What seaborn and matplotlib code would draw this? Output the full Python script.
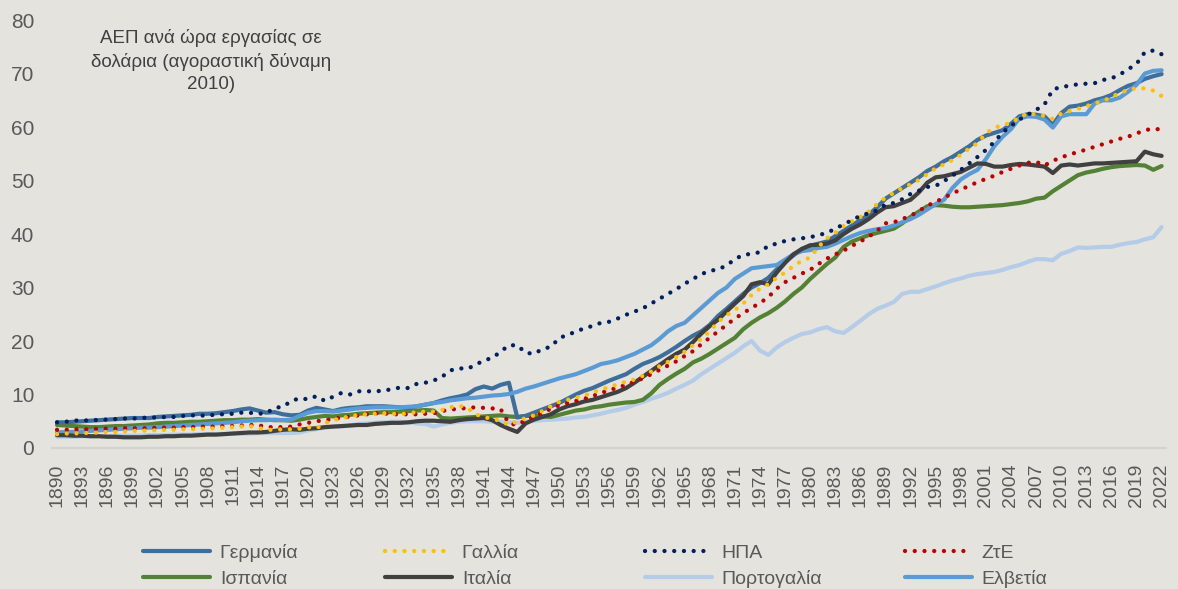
import matplotlib
matplotlib.use("Agg")
import matplotlib.pyplot as plt
import seaborn as sns
from matplotlib.lines import Line2D
from matplotlib.ticker import FixedLocator

# ---------------- data ----------------
years = list(range(1890, 2023))
tick_years = list(range(1890, 2023, 3))

labels = ["Γερμανία", "Γαλλία", "ΗΠΑ", "ΖτΕ", "Ισπανία", "Ιταλία", "Πορτογαλία", "Ελβετία"]

germany = [
    4.8, 4.8, 4.9, 5.0, 5.1, 5.2, 5.3, 5.4, 5.5, 5.6,
    5.6, 5.6, 5.8, 5.9, 6.0, 6.1, 6.2, 6.4, 6.4, 6.5,
    6.7, 6.9, 7.2, 7.4, 7.0, 6.6, 6.7, 6.3, 6.1, 6.2,
    7.0, 7.5, 7.2, 6.9, 7.3, 7.5, 7.6, 7.8, 7.8, 7.8,
    7.7, 7.6, 7.5, 7.8, 8.1, 8.4, 8.9, 9.3, 9.6, 10.0,
    11.0, 11.5, 11.1, 11.8, 12.2, 5.7, 6.0, 6.6, 7.2, 7.8,
    8.4, 9.2, 10.0, 10.7, 11.2, 11.9, 12.6, 13.2, 13.8, 14.8,
    15.7, 16.3, 17.0, 17.9, 18.9, 20.0, 21.0, 21.8, 23.0, 24.7,
    26.0, 27.4, 28.8, 30.0, 30.8, 31.8, 33.4, 34.8, 36.0, 37.2,
    37.8, 38.2, 38.6, 39.6, 40.6, 41.6, 42.6, 43.6, 45.0, 46.6,
    47.6, 48.6, 49.6, 50.6, 51.8, 52.6, 53.6, 54.4, 55.4, 56.4,
    57.6, 58.4, 58.9, 59.4, 60.6, 62.0, 62.4, 62.3, 62.0, 60.4,
    62.6, 63.8, 64.0, 64.4, 65.0, 65.4, 66.0, 66.9, 67.7, 68.2,
    69.0, 69.5, 69.9]

france = [
    2.6, 2.7, 2.7, 2.8, 2.8, 2.9, 3.0, 3.0, 3.1, 3.2,
    3.2, 3.3, 3.3, 3.4, 3.4, 3.5, 3.5, 3.6, 3.6, 3.7,
    3.8, 3.9, 4.0, 4.1, 3.8, 3.4, 3.4, 3.5, 3.5, 3.6,
    3.9, 3.7, 4.6, 5.2, 5.6, 5.9, 6.2, 6.3, 6.4, 6.5,
    6.4, 6.3, 6.5, 6.7, 6.8, 6.8, 7.1, 7.6, 7.9, 7.6,
    6.3, 5.8, 5.4, 5.1, 4.3, 5.0, 5.6, 6.1, 6.9, 7.8,
    8.6, 9.0, 9.4, 9.8, 10.4, 10.9, 11.4, 11.9, 12.4, 12.8,
    13.5, 14.3, 15.3, 16.1, 17.0, 18.0, 19.2, 20.4, 21.8, 23.6,
    24.8, 25.8, 27.0, 28.6, 29.8, 30.6, 31.8, 32.8, 34.0, 35.0,
    35.6, 37.6, 39.2, 40.2, 41.5, 42.4, 43.2, 44.2, 45.6, 46.8,
    47.7, 48.6, 49.3, 50.1, 51.2, 52.3, 53.0, 53.8, 54.8, 56.0,
    57.0, 58.8, 59.9, 60.3, 60.8, 61.8, 62.6, 62.3, 62.1, 61.5,
    62.5, 63.0, 63.4, 63.9, 64.4, 64.9, 65.6, 66.4, 66.9, 67.3,
    67.2, 66.8, 65.8]

usa = [
    4.8, 4.9, 5.1, 5.2, 5.1, 5.3, 5.3, 5.4, 5.5, 5.5,
    5.6, 5.7, 5.7, 5.8, 5.8, 6.0, 6.1, 6.1, 6.0, 6.3,
    6.3, 6.4, 6.6, 6.6, 6.4, 6.5, 7.5, 7.7, 8.8, 9.3,
    9.1, 9.7, 8.8, 9.6, 10.3, 10.0, 10.6, 10.6, 10.6, 10.7,
    11.0, 11.3, 11.2, 12.0, 12.2, 12.6, 13.3, 14.5, 14.9, 14.8,
    15.5, 16.4, 16.8, 18.0, 19.2, 19.2, 17.8, 17.6, 18.5, 18.9,
    20.5, 21.2, 21.7, 22.4, 22.8, 23.4, 23.6, 24.2, 24.9, 25.5,
    26.1, 27.0, 27.9, 28.8, 29.7, 30.7, 31.6, 32.5, 33.1, 33.4,
    34.1, 35.3, 36.1, 36.3, 36.6, 37.8, 38.2, 38.7, 39.0, 39.2,
    39.4, 39.8, 40.2, 41.0, 41.8, 42.6, 43.4, 43.9, 44.4, 45.5,
    45.8, 46.5, 47.5, 48.1, 48.8, 49.0, 49.9, 50.9, 52.0, 53.2,
    54.4, 55.7, 57.2, 59.0, 60.2, 61.4, 62.3, 63.2, 64.2, 67.0,
    67.5, 67.7, 68.0, 68.1, 68.2, 68.8, 69.1, 69.8, 70.8, 71.8,
    74.0, 74.3, 73.6]

zte = [
    3.4, 3.4, 3.5, 3.5, 3.5, 3.6, 3.6, 3.6, 3.7, 3.7,
    3.7, 3.7, 3.8, 3.8, 3.8, 3.9, 3.9, 4.0, 4.0, 4.0,
    4.1, 4.1, 4.2, 4.3, 4.3, 3.9, 3.9, 3.9, 4.0, 4.4,
    4.7, 5.0, 5.2, 5.4, 5.7, 5.9, 6.1, 6.3, 6.5, 6.5,
    6.3, 6.3, 6.3, 6.3, 6.4, 6.5, 6.9, 7.2, 7.3, 7.5,
    7.6, 7.5, 7.4, 7.3, 4.6, 4.3, 5.2, 5.8, 6.6, 7.3,
    8.0, 8.4, 8.8, 9.2, 9.7, 10.3, 10.8, 11.3, 11.8, 12.4,
    13.0, 13.8, 14.6, 15.4, 16.2, 17.2, 18.1, 19.4, 20.6, 21.8,
    23.0, 24.2, 25.2, 26.2, 27.1, 28.2, 29.8, 31.0, 31.8, 32.6,
    33.3, 34.4, 35.4, 36.2, 36.9, 37.8, 38.6, 39.5, 40.6, 42.0,
    42.2, 42.8, 43.4, 44.3, 45.3, 46.0, 46.8, 47.6, 48.3, 49.0,
    49.7, 50.3, 50.9, 51.6, 52.2, 52.8, 53.3, 53.5, 52.8, 53.7,
    54.3, 54.9, 55.3, 55.8, 56.3, 56.8, 57.3, 57.8, 58.2, 58.8,
    59.4, 59.7, 59.5]

spain = [
    4.3, 4.2, 4.1, 4.0, 3.9, 3.9, 4.0, 4.1, 4.1, 4.2,
    4.3, 4.4, 4.6, 4.7, 4.7, 4.8, 4.9, 4.9, 5.0, 5.1,
    5.2, 5.2, 5.3, 5.3, 5.4, 5.3, 5.2, 5.2, 5.1, 5.3,
    5.6, 5.8, 6.0, 5.9, 6.1, 6.2, 6.4, 6.5, 6.6, 6.7,
    6.7, 6.8, 6.9, 7.0, 7.1, 7.0, 5.6, 5.5, 5.6, 5.7,
    5.8, 5.9, 6.0, 6.1, 5.9, 5.8, 6.0, 6.0, 5.9, 5.8,
    6.2, 6.6, 7.0, 7.2, 7.6, 7.8, 8.1, 8.3, 8.5, 8.6,
    9.0, 10.2, 11.8, 12.9, 13.9, 14.8, 16.0, 16.7, 17.6, 18.6,
    19.6, 20.6, 22.2, 23.4, 24.4, 25.2, 26.2, 27.4, 28.8, 30.0,
    31.6, 33.0, 34.4, 35.6, 37.6, 38.6, 39.2, 39.8, 40.2, 40.6,
    41.0, 42.0, 43.2, 44.2, 45.2, 45.4, 45.3, 45.1, 45.0, 45.0,
    45.1, 45.2, 45.3, 45.4, 45.6, 45.8, 46.1, 46.6, 46.8, 48.0,
    49.0, 50.0, 51.0, 51.5, 51.8, 52.2, 52.5, 52.7, 52.8, 52.9,
    52.8, 52.0, 52.7]

italy = [
    2.4, 2.4, 2.3, 2.3, 2.2, 2.2, 2.1, 2.1, 2.0, 2.0,
    2.0, 2.1, 2.1, 2.2, 2.2, 2.3, 2.3, 2.4, 2.5, 2.5,
    2.6, 2.7, 2.8, 2.9, 2.9, 3.0, 3.2, 3.4, 3.5, 3.4,
    3.6, 3.7, 3.9, 4.0, 4.1, 4.2, 4.3, 4.3, 4.5, 4.6,
    4.7, 4.7, 4.8, 5.0, 5.1, 5.1, 5.0, 4.9, 5.2, 5.4,
    5.5, 5.6, 5.2, 4.3, 3.6, 3.0, 4.6, 5.3, 5.8, 6.3,
    7.2, 7.8, 8.2, 8.7, 9.0, 9.5, 10.0, 10.5, 11.2, 12.2,
    13.3, 14.4, 15.5, 16.6, 17.6, 18.4, 19.8, 21.4, 22.8, 24.0,
    25.5, 27.0, 28.4, 30.6, 31.0, 30.6, 32.8, 34.6, 36.2, 37.2,
    37.9, 38.0, 38.2, 38.8, 40.0, 41.0, 41.8, 42.8, 44.0, 45.0,
    45.2, 45.8, 46.4, 47.8, 49.6, 50.6, 50.8, 51.2, 51.6, 52.4,
    53.2, 53.1, 52.6, 52.6, 52.9, 53.1, 53.0, 52.8, 52.6, 51.4,
    52.8, 53.0, 52.8, 53.0, 53.2, 53.2, 53.3, 53.4, 53.5, 53.6,
    55.4, 54.9, 54.6]

portugal = [
    2.1, 2.1, 2.1, 2.2, 2.2, 2.2, 2.2, 2.3, 2.3, 2.3,
    2.3, 2.4, 2.4, 2.4, 2.5, 2.5, 2.5, 2.6, 2.6, 2.6,
    2.6, 2.7, 2.7, 2.7, 2.8, 2.8, 2.8, 2.8, 2.8, 2.9,
    3.3, 3.5, 3.8, 4.0, 4.0, 4.2, 4.5, 4.6, 4.7, 4.8,
    4.9, 4.9, 4.8, 4.6, 4.5, 4.0, 4.4, 4.7, 4.9, 5.0,
    5.0, 5.0, 4.9, 4.9, 4.8, 4.7, 4.9, 5.1, 5.2, 5.3,
    5.4, 5.5, 5.7, 5.8, 6.1, 6.4, 6.8, 7.1, 7.5, 8.1,
    8.6, 9.2, 9.7, 10.3, 11.1, 11.8, 12.6, 13.8, 14.8, 15.8,
    16.8, 17.8, 19.0, 20.0, 18.2, 17.4, 18.8, 19.8, 20.6, 21.3,
    21.6, 22.2, 22.6, 21.8, 21.5, 22.6, 23.8, 25.0, 26.0, 26.6,
    27.3, 28.8, 29.2, 29.2, 29.7, 30.2, 30.8, 31.3, 31.7, 32.2,
    32.5, 32.7, 32.9, 33.3, 33.8, 34.2, 34.8, 35.3, 35.3, 35.1,
    36.3, 36.8, 37.5, 37.4, 37.5, 37.6, 37.6, 38.0, 38.3, 38.5,
    39.0, 39.4, 41.3]

swiss = [
    2.9, 3.0, 3.0, 3.1, 3.2, 3.3, 3.4, 3.5, 3.6, 3.7,
    3.8, 3.8, 3.9, 4.0, 4.1, 4.2, 4.3, 4.4, 4.5, 4.6,
    4.7, 4.8, 5.0, 5.1, 5.2, 5.2, 5.3, 5.2, 5.3, 6.0,
    6.6, 6.9, 6.9, 6.8, 7.0, 7.2, 7.4, 7.5, 7.6, 7.6,
    7.6, 7.6, 7.7, 7.8, 8.1, 8.4, 8.6, 8.9, 9.1, 9.3,
    9.4, 9.6, 9.8, 9.9, 10.1, 10.5, 11.1, 11.5, 12.0, 12.5,
    13.0, 13.4, 13.8, 14.4, 15.0, 15.7, 16.0, 16.4, 17.0, 17.6,
    18.4, 19.2, 20.4, 21.8, 22.8, 23.4, 24.8, 26.2, 27.6, 29.0,
    30.0, 31.6, 32.6, 33.6, 33.8, 34.0, 34.2, 35.2, 36.2, 36.8,
    37.0, 37.4, 37.6, 38.2, 38.9, 39.6, 40.2, 40.6, 40.9, 41.1,
    41.6, 42.2, 42.8, 43.6, 44.6, 45.6, 46.4, 48.6, 50.2, 51.2,
    52.0, 54.0, 56.4, 58.2, 59.6, 61.6, 62.0, 61.9, 61.4, 59.9,
    62.0, 62.4, 62.4, 62.4, 64.4, 65.0, 65.0, 65.5, 66.6, 67.9,
    70.0, 70.5, 70.6]

title_text = "ΑΕΠ ανά ώρα εργασίας σε\nδολάρια (αγοραστική δύναμη\n2010)"

# ---------------- style ----------------
sns.set_style("white")
plt.rcParams["font.family"] = ["Liberation Sans", "DejaVu Sans"]

BG = "#E4E3DE"
TXT = "#595959"
DOT = (0, (0.01, 2.25))

colors = {
    "Γερμανία": "#3E6E9C",
    "Γαλλία": "#FFC000",
    "ΗΠΑ": "#002060",
    "ΖτΕ": "#C00000",
    "Ισπανία": "#548235",
    "Ιταλία": "#404040",
    "Πορτογαλία": "#B4CCE8",
    "Ελβετία": "#5B9BD5",
}
dotted = {"Γαλλία", "ΗΠΑ", "ΖτΕ"}
values = {
    "Γερμανία": germany, "Γαλλία": france, "ΗΠΑ": usa, "ΖτΕ": zte,
    "Ισπανία": spain, "Ιταλία": italy, "Πορτογαλία": portugal, "Ελβετία": swiss,
}
draw_order = ["Πορτογαλία", "Ισπανία", "Γερμανία", "Ελβετία", "Ιταλία", "ΖτΕ", "Γαλλία", "ΗΠΑ"]

fig = plt.figure(figsize=(11.78, 5.89), dpi=100, facecolor=BG)
ax = fig.add_axes([0.0445, 0.2394, 0.9455, 0.7266], facecolor=BG)

for z, name in enumerate(draw_order):
    if name in dotted:
        sns.lineplot(x=years, y=values[name], ax=ax, color=colors[name], linewidth=3.1,
                     linestyle=DOT, dash_capstyle="round", errorbar=None, legend=False,
                     zorder=3 + z)
    else:
        sns.lineplot(x=years, y=values[name], ax=ax, color=colors[name], linewidth=3.0,
                     solid_capstyle="round", solid_joinstyle="round", errorbar=None,
                     legend=False, zorder=3 + z)

ax.set_xlim(1889.45, 2022.55)
ax.set_ylim(0, 80)
ax.set_yticks(range(0, 81, 10))
ax.xaxis.set_major_locator(FixedLocator(tick_years))
ax.xaxis.set_minor_locator(FixedLocator(years))
ax.set_xticklabels([str(y) for y in tick_years], rotation=90)
ax.tick_params(axis="y", length=0, pad=13, labelsize=15, labelcolor=TXT)
ax.tick_params(axis="x", which="both", length=5, width=1.2, color="#D2D2D2",
               direction="out", pad=6, labelsize=14, labelcolor=TXT)
ax.set_xlabel("")
ax.set_ylabel("")
for s in ["top", "right", "left"]:
    ax.spines[s].set_visible(False)
ax.spines["bottom"].set_color("#D2D2D2")
ax.spines["bottom"].set_linewidth(1.5)
ax.grid(False)

fig.text(0.179, 0.896, title_text, ha="center", va="center", fontsize=13.5,
         color="#404040", linespacing=1.4)

# ---------------- legend (4 columns x 2 rows) ----------------
def handle(name):
    if name in dotted:
        return Line2D([], [], color=colors[name], linewidth=3.1, linestyle=DOT,
                      dash_capstyle="round", label=name)
    return Line2D([], [], color=colors[name], linewidth=3.0, label=name)

columns = [("Γερμανία", "Ισπανία"), ("Γαλλία", "Ιταλία"),
           ("ΗΠΑ", "Πορτογαλία"), ("ΖτΕ", "Ελβετία")]
col_x = [143, 385, 645, 905]
for (a, b), xpx in zip(columns, col_x):
    fig.legend(handles=[handle(a), handle(b)], loc="center left",
               bbox_to_anchor=(xpx / 1178, 0.039), frameon=False, fontsize=14,
               handlelength=3.45, handletextpad=0.5, labelspacing=0.42,
               borderpad=0, borderaxespad=0, labelcolor=TXT)

fig.savefig("out.png", dpi=100, facecolor=BG)
